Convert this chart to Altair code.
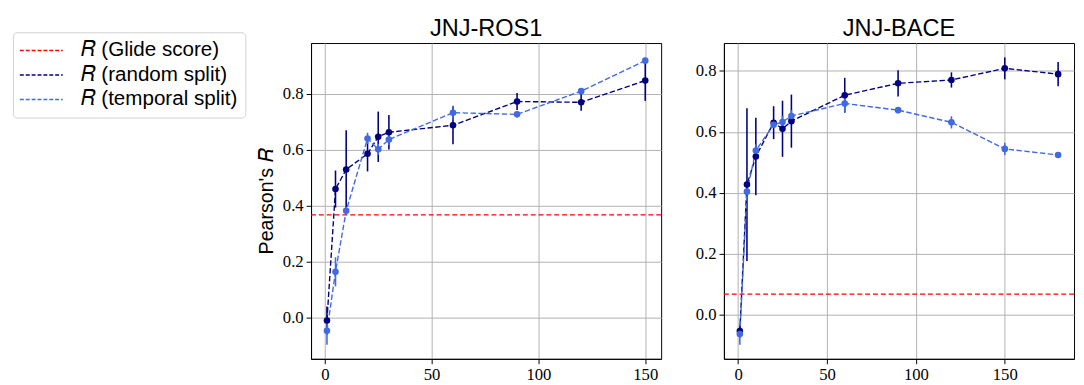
import altair as alt
import pandas as pd

# ---- data ----
series_names = ["𝑅 (Glide score)", "𝑅 (random split)", "𝑅 (temporal split)"]
series_colors = ["#ff0000", "#000080", "#4169e1"]

x_ros = [1, 5, 10, 20, 25, 30, 60, 90, 120, 150]
ros_random = [-0.010, 0.460, 0.530, 0.586, 0.647, 0.663, 0.688, 0.773, 0.770, 0.848]
ros_random_err = [0.050, 0.066, 0.140, 0.063, 0.090, 0.062, 0.068, 0.030, 0.030, 0.073]
ros_temporal = [-0.047, 0.164, 0.382, 0.641, 0.602, 0.637, 0.733, 0.727, 0.810, 0.919]
ros_temporal_err = [0.050, 0.052, 0.015, 0.020, 0.020, 0.020, 0.025, 0.010, 0.010, 0.010]
ros_glide = 0.368

x_bace = [1, 5, 10, 20, 25, 30, 60, 90, 120, 150, 180]
bace_random = [-0.053, 0.427, 0.519, 0.630, 0.610, 0.635, 0.720, 0.759, 0.770, 0.808, 0.789]
bace_random_err = [0.020, 0.250, 0.127, 0.054, 0.092, 0.087, 0.057, 0.043, 0.025, 0.036, 0.040]
bace_temporal = [-0.063, 0.404, 0.539, 0.623, 0.632, 0.652, 0.693, 0.671, 0.631, 0.544, 0.524]
bace_temporal_err = [0.035, 0.020, 0.020, 0.010, 0.020, 0.020, 0.030, 0.010, 0.020, 0.020, 0.010]
bace_glide = 0.068

x_ticks = [0, 50, 100, 150]
y_ticks = [0.0, 0.2, 0.4, 0.6, 0.8]

color_scale = alt.Scale(domain=series_names, range=series_colors)


def make_df(x, rnd, rnd_err, tmp, tmp_err):
    rows = []
    for xi, v, e in zip(x, rnd, rnd_err):
        rows.append({"x": xi, "y": v, "lo": v - e, "hi": v + e, "series": series_names[1]})
    for xi, v, e in zip(x, tmp, tmp_err):
        rows.append({"x": xi, "y": v, "lo": v - e, "hi": v + e, "series": series_names[2]})
    return pd.DataFrame(rows)


def panel(title, x, rnd, rnd_err, tmp, tmp_err, glide, xdom, ydom, ytitle):
    df = make_df(x, rnd, rnd_err, tmp, tmp_err)
    base = alt.Chart(df)
    xs = alt.Scale(domain=xdom, nice=False, zero=False)
    ys = alt.Scale(domain=ydom, nice=False, zero=False)
    xenc = alt.X("x:Q", scale=xs, axis=alt.Axis(values=x_ticks, format="d", title=None))
    yaxis = alt.Axis(values=y_ticks, format=".1f", title=ytitle) if ytitle else alt.Axis(values=y_ticks, format=".1f", title=None)
    yenc = alt.Y("y:Q", scale=ys, axis=yaxis)
    col = alt.Color("series:N", scale=color_scale,
                    legend=alt.Legend(title=None, symbolType="M-1.2,0H3.4"))

    glide_df = pd.DataFrame({"y": [glide], "series": [series_names[0]]})
    glide_rule = alt.Chart(glide_df).mark_rule(strokeDash=[5, 3], strokeWidth=1.3).encode(
        y=alt.Y("y:Q", scale=ys, axis=yaxis), color=col)

    err = base.mark_rule(strokeWidth=1.6).encode(
        x=xenc, y=alt.Y("lo:Q", scale=ys, axis=yaxis), y2="hi:Q", color=col)
    line = base.mark_line(strokeDash=[5.5, 2.5], strokeWidth=1.4).encode(
        x=xenc, y=yenc, color=col, detail="series:N")
    pts = base.mark_circle(size=45, opacity=1).encode(x=xenc, y=yenc, color=col)

    return alt.layer(glide_rule, err, line, pts).properties(
        width=357, height=322,
        title=alt.TitleParams(title, font="Liberation Sans", fontSize=24,
                              fontWeight="normal", color="black", anchor="middle", offset=2),
    )


left = panel("JNJ-ROS1", x_ros, ros_random, ros_random_err, ros_temporal, ros_temporal_err,
             ros_glide, [-6.45, 157.45], [-0.147, 0.982], "Pearson's 𝑅")
right = panel("JNJ-BACE", x_bace, bace_random, bace_random_err, bace_temporal, bace_temporal_err,
              bace_glide, [-7.95, 188.95], [-0.144, 0.891], None)

chart = alt.hconcat(left, right, spacing=32).properties(
    padding={"left": 4, "top": 5, "right": 0, "bottom": 0}
).configure_view(
    stroke="black", strokeWidth=1
).configure_axis(
    labelFont="Liberation Serif", labelFontSize=17, labelColor="black",
    tickColor="black", tickSize=5, domainColor="black", domainWidth=1,
    gridColor="#b0b0b0", gridWidth=1, labelPadding=3,
    titleFont="Liberation Sans", titleFontSize=20, titleFontWeight="normal",
    titleColor="black", titlePadding=6,
).configure_legend(
    orient="none", legendX=-304, legendY=-11, padding=8, strokeColor="#d0d0d0", cornerRadius=4,
    fillColor="white", labelFont="Liberation Sans", labelFontSize=21, labelColor="black",
    labelLimit=400, symbolSize=361, symbolStrokeWidth=1.5, symbolDash=[4, 2],
    rowPadding=3, labelOffset=40,
)

chart.save("out.html", embed_options={"renderer": "svg", "actions": False})
